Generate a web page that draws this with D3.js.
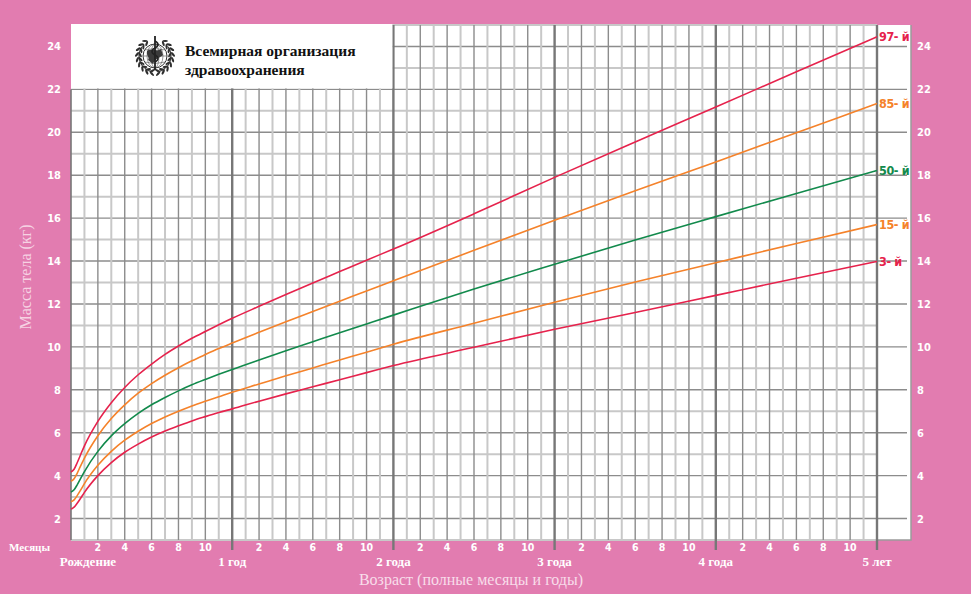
<!DOCTYPE html>
<html>
<head>
<meta charset="utf-8">
<script src="https://cdn.jsdelivr.net/npm/d3@7"></script>
<style>
  html, body { margin: 0; padding: 0; background: #e27cb0; }
  svg { display: block; }
</style>
</head>
<body>
<svg id="chart" width="971" height="594"></svg>
<script>
// age in months (first points are weeks 0..3)
const months = [0, 0.23, 0.46, 0.69, 1, 2, 3, 4, 5, 6, 7, 8, 9, 10, 11, 12, 14, 16, 18, 20, 22, 24,
  30, 36, 42, 48, 54, 60];

const p3 = [2.44, 2.53, 2.71, 2.92, 3.22, 4.00, 4.61, 5.09, 5.47, 5.80, 6.08, 6.32, 6.55, 6.75, 6.94, 7.11,
  7.47, 7.81, 8.14, 8.47, 8.80, 9.13, 9.98, 10.82, 11.60, 12.40, 13.20, 13.98];
const p15 = [2.78, 2.87, 3.07, 3.30, 3.63, 4.48, 5.13, 5.65, 6.07, 6.43, 6.73, 7.00, 7.25, 7.47, 7.68, 7.89,
  8.27, 8.65, 9.02, 9.39, 9.75, 10.12, 11.10, 12.08, 13.02, 13.92, 14.82, 15.70];
const p50 = [3.23, 3.34, 3.57, 3.84, 4.19, 5.13, 5.85, 6.42, 6.90, 7.30, 7.64, 7.95, 8.23, 8.48, 8.72, 8.95,
  9.39, 9.82, 10.24, 10.66, 11.07, 11.48, 12.70, 13.85, 14.98, 16.07, 17.15, 18.22];
const p85 = [3.73, 3.85, 4.11, 4.42, 4.82, 5.86, 6.66, 7.30, 7.84, 8.29, 8.68, 9.03, 9.35, 9.64, 9.92, 10.18,
  10.68, 11.17, 11.65, 12.13, 12.60, 13.08, 14.50, 15.90, 17.28, 18.62, 19.98, 21.34];
const p97 = [4.17, 4.30, 4.60, 4.94, 5.39, 6.53, 7.40, 8.11, 8.70, 9.20, 9.65, 10.04, 10.40, 10.72, 11.03, 11.33,
  11.89, 12.44, 12.98, 13.51, 14.04, 14.56, 16.20, 17.90, 19.55, 21.18, 22.82, 24.45];

const seriesNames = ['3- й', '15- й', '50- й', '85- й', '97- й'];
const yearLabels = ['Рождение', '1 год', '2 года', '3 года', '4 года', '5 лет'];
const monthTicks = [2, 4, 6, 8, 10];
const kgTicks = [2, 4, 6, 8, 10, 12, 14, 16, 18, 20, 22, 24];

const RED = '#e6224c', ORANGE = '#f5822a', GREEN = '#128a4c';
const colors = [RED, ORANGE, GREEN, ORANGE, RED];
const values = [p3, p15, p50, p85, p97];

const svg = d3.select('#chart');
const x = d3.scaleLinear().domain([0, 60]).range([71, 877]);
const y = d3.scaleLinear().domain([1, 25]).range([540, 25]);

const numFont = '"Liberation Sans Narrow", "DejaVu Sans Condensed", "Liberation Sans", sans-serif';
const serif = '"Liberation Serif", "DejaVu Serif", serif';

// white panel
svg.append('rect')
  .attr('x', x(0)).attr('y', y(25))
  .attr('width', 911 - x(0)).attr('height', y(1) - y(25))
  .attr('fill', '#fff');
svg.append('path')
  .attr('d', `M911,${y(25)}V${y(1)}H${x(0)}`)
  .attr('fill', 'none').attr('stroke', '#9a9a9a').attr('stroke-width', 1.5);

const grid = svg.append('g');

// horizontal lines (kg)
d3.range(1, 26).forEach(k => {
  const even = k % 2 === 0;
  grid.append('line')
    .attr('x1', x(0)).attr('x2', even ? 907 : x(60))
    .attr('y1', y(k)).attr('y2', y(k))
    .attr('stroke', even ? '#8c8c8c' : '#c8c8c8')
    .attr('stroke-width', even ? 1.4 : 2);
});

// vertical lines (months)
d3.range(0, 61).forEach(m => {
  if (m % 12 === 0) return;
  const even = m % 2 === 0;
  grid.append('line')
    .attr('x1', x(m)).attr('x2', x(m))
    .attr('y1', y(25)).attr('y2', y(1))
    .attr('stroke', even ? '#8c8c8c' : '#c8c8c8')
    .attr('stroke-width', even ? 1.4 : 2);
});

// logo box covers the top-left corner
svg.append('rect')
  .attr('x', x(0)).attr('y', y(25) - 1)
  .attr('width', x(24) - x(0) - 1).attr('height', y(22) - y(25))
  .attr('fill', '#fff');

// year lines
d3.range(0, 61, 12).forEach(m => {
  grid.append('line')
    .attr('x1', x(m)).attr('x2', x(m))
    .attr('y1', m === 0 ? y(22) : y(25)).attr('y2', m === 0 ? y(1) : 550)
    .attr('stroke', '#777').attr('stroke-width', m === 0 ? 1.6 : 2.4);
});

// curves
const line = d3.line()
  .x((d, i) => x(months[i]))
  .y(d => y(d))
  .curve(d3.curveMonotoneX);

values.forEach((vals, i) => {
  svg.append('path')
    .attr('d', line(vals))
    .attr('fill', 'none')
    .attr('stroke', colors[i])
    .attr('stroke-width', 1.6);
  svg.append('text')
    .attr('x', 879).attr('y', y(vals[vals.length - 1]) + 4.5)
    .attr('fill', colors[i])
    .attr('font-family', numFont)
    .attr('font-weight', 'bold')
    .attr('font-size', 12.5)
    .attr('letter-spacing', -0.4)
    .text(seriesNames[i]);
});

// y tick labels both sides
kgTicks.forEach(k => {
  svg.append('text')
    .attr('x', 61).attr('y', y(k) + 4)
    .attr('text-anchor', 'end')
    .attr('fill', '#fff').attr('font-family', numFont)
    .attr('font-weight', 'bold').attr('font-size', 11)
    .text(k);
  svg.append('text')
    .attr('x', 917).attr('y', y(k) + 4)
    .attr('fill', '#fff').attr('font-family', numFont)
    .attr('font-weight', 'bold').attr('font-size', 11)
    .text(k);
});

// month tick labels
d3.range(0, 5).forEach(yr => {
  monthTicks.forEach(m => {
    svg.append('text')
      .attr('x', x(yr * 12 + m)).attr('y', 551)
      .attr('text-anchor', 'middle')
      .attr('fill', '#fff').attr('font-family', numFont)
      .attr('font-weight', 'bold').attr('font-size', 10.5)
      .text(m);
  });
});

svg.append('text')
  .attr('x', 9).attr('y', 551)
  .attr('fill', '#fff').attr('font-family', serif)
  .attr('font-weight', 'bold').attr('font-size', 11)
  .text('Месяцы');

yearLabels.forEach((t, i) => {
  svg.append('text')
    .attr('x', i === 0 ? 88 : x(i * 12)).attr('y', 566)
    .attr('text-anchor', 'middle')
    .attr('fill', '#fff').attr('font-family', serif)
    .attr('font-weight', 'bold').attr('font-size', 13)
    .text(t);
});

svg.append('text')
  .attr('x', 471).attr('y', 585)
  .attr('text-anchor', 'middle')
  .attr('fill', '#f8dcea').attr('font-family', serif)
  .attr('font-size', 16)
  .text('Возраст (полные месяцы и годы)');

svg.append('text')
  .attr('transform', 'translate(31,277) rotate(-90)')
  .attr('text-anchor', 'middle')
  .attr('fill', '#f6d2e3').attr('font-family', serif)
  .attr('font-size', 16)
  .text('Масса тела (кг)');

// WHO emblem (simplified)
const logo = svg.append('g').attr('transform', 'translate(155,56)');
logo.append('circle').attr('r', 12).attr('fill', '#fff').attr('stroke', '#333').attr('stroke-width', 1);
[-6, 6].forEach(o => {
  logo.append('path').attr('d', `M${-Math.sqrt(144 - o * o)},${o} Q0,${o + (o > 0 ? 3 : -3)} ${Math.sqrt(144 - o * o)},${o}`)
    .attr('fill', 'none').attr('stroke', '#555').attr('stroke-width', 0.6);
});
logo.append('line').attr('x1', -12).attr('x2', 12).attr('stroke', '#555').attr('stroke-width', 0.6);
[4, 8].forEach(r => {
  logo.append('ellipse').attr('rx', r).attr('ry', 12)
    .attr('fill', 'none').attr('stroke', '#555').attr('stroke-width', 0.6);
});
logo.append('path').attr('d', 'M-8,-5 C-4,-8 2,-4 6,-7 L8,-1 C4,3 1,1 -2,8 L-7,4 C-5,1 -9,0 -8,-5 Z')
  .attr('fill', '#3a3a3a');
[-1, 1].forEach(s => {
  logo.append('path')
    .attr('d', d3.arc()({innerRadius: 16, outerRadius: 16, startAngle: s * Math.PI * 0.95, endAngle: s * Math.PI * 0.3}))
    .attr('fill', 'none').attr('stroke', '#333').attr('stroke-width', 0.8);
  d3.range(0, 9).forEach(i => {
    const t = 100 + i * 17;
    const cx = 16.5 * Math.cos(t * Math.PI / 180);
    const cy = 16.5 * Math.sin(t * Math.PI / 180);
    [-1, 1].forEach(side => {
      const ang = s > 0 ? t + side * 35 : 180 - t - side * 35;
      const ox = s * (cx + side * 1.6 * Math.cos(t * Math.PI / 180));
      const oy = cy + side * 1.6 * Math.sin(t * Math.PI / 180);
      logo.append('ellipse')
        .attr('cx', ox).attr('cy', oy)
        .attr('rx', 1.1).attr('ry', 2.8)
        .attr('transform', `rotate(${ang},${ox},${oy})`)
        .attr('fill', '#2e2e2e');
    });
  });
});
logo.append('line').attr('x1', 0).attr('x2', 0).attr('y1', -20).attr('y2', 14)
  .attr('stroke', '#222').attr('stroke-width', 1.8);
logo.append('path').attr('d', 'M0,-15 C4,-13 4,-10 0,-8 C-4,-6 -4,-3 0,-1 C4,1 4,4 0,6')
  .attr('fill', 'none').attr('stroke', '#222').attr('stroke-width', 1.6);

svg.append('text')
  .attr('x', 185).attr('y', 56)
  .attr('fill', '#111').attr('font-family', serif)
  .attr('font-weight', 'bold').attr('font-size', 15.5)
  .text('Всемирная организация');
svg.append('text')
  .attr('x', 185).attr('y', 75)
  .attr('fill', '#111').attr('font-family', serif)
  .attr('font-weight', 'bold').attr('font-size', 15.5)
  .text('здравоохранения');
</script>
</body>
</html>
